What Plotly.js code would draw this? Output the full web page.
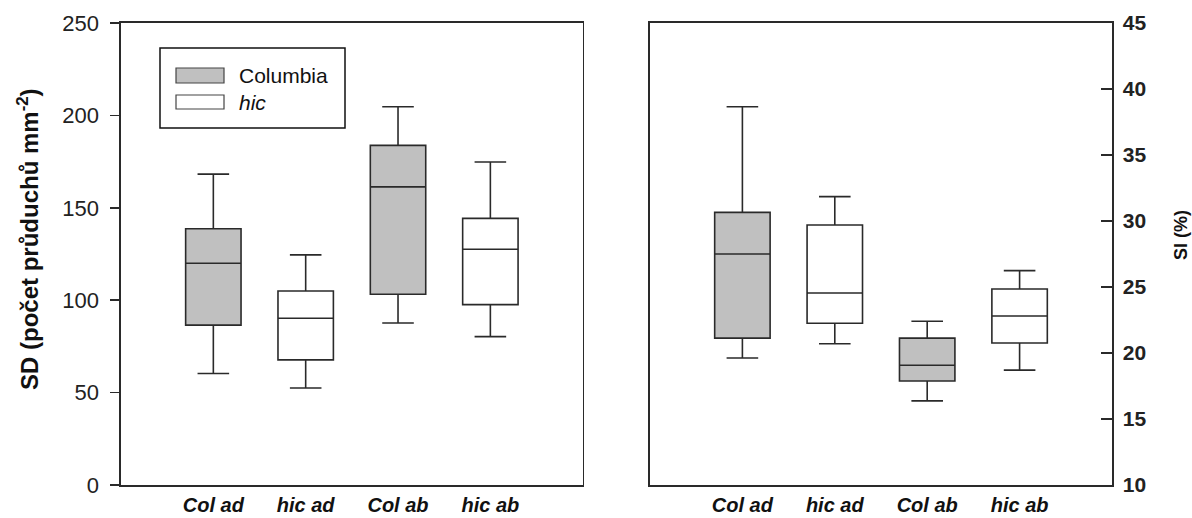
<!DOCTYPE html>
<html>
<head>
<meta charset="utf-8">
<script src="https://cdn.plot.ly/plotly-3.0.1.min.js"></script>
<style>html,body{margin:0;padding:0;background:#fff;}#chart{width:1192px;height:518px;}</style>
</head>
<body>
<div id="chart"></div>
<script>
// categories and tick labels
const categories = ['Col ad', 'hic ad', 'Col ab', 'hic ab'];
const catPos = [0, 1, 2, 3];
const seriesNames = ['Columbia', 'hic'];

// SD (stomata per mm^2) box statistics, per category
const sdLow    = [60.3, 52.5, 87.7, 80.3];
const sdQ1     = [86.5, 67.7, 103.2, 97.6];
const sdMedian = [120.0, 90.2, 161.3, 127.6];
const sdQ3     = [138.7, 105.0, 183.8, 144.3];
const sdHigh   = [168.2, 124.5, 204.7, 174.8];

// SI (%) box statistics, per category
const siLow    = [19.62, 20.70, 16.37, 18.70];
const siQ1     = [21.13, 22.25, 17.88, 20.76];
const siMedian = [27.50, 24.55, 19.07, 22.80];
const siQ3     = [30.65, 29.70, 21.13, 24.85];
const siHigh   = [38.65, 31.85, 22.40, 26.24];

// which categories belong to which series
const colIdx = [0, 2];
const hicIdx = [1, 3];

const FONT = 'Liberation Sans, Arial, sans-serif';
const LINE = '#2a2a2a';
const fills = ['#c0c0c0', '#ffffff'];

function pick(arr, idx) { return idx.map(i => arr[i]); }

function boxTrace(idx, fill, name, low, q1, med, q3, high, xa, ya) {
  return {
    type: 'box', name: name, showlegend: false,
    x: pick(catPos, idx),
    lowerfence: pick(low, idx), q1: pick(q1, idx), median: pick(med, idx),
    q3: pick(q3, idx), upperfence: pick(high, idx),
    fillcolor: fill, line: {color: LINE, width: 1.6},
    width: 0.6, whiskerwidth: 0.57,
    xaxis: xa, yaxis: ya, hoverinfo: 'skip'
  };
}

const data = [
  boxTrace(colIdx, fills[0], seriesNames[0], sdLow, sdQ1, sdMedian, sdQ3, sdHigh, 'x', 'y'),
  boxTrace(hicIdx, fills[1], seriesNames[1], sdLow, sdQ1, sdMedian, sdQ3, sdHigh, 'x', 'y'),
  boxTrace(colIdx, fills[0], seriesNames[0], siLow, siQ1, siMedian, siQ3, siHigh, 'x2', 'y2'),
  boxTrace(hicIdx, fills[1], seriesNames[1], siLow, siQ1, siMedian, siQ3, siHigh, 'x2', 'y2')
];

const xCommon = {
  range: [-1, 4], tickvals: catPos, ticktext: categories,
  showline: true, mirror: true, linecolor: LINE, linewidth: 1.6,
  ticks: '', showgrid: false, zeroline: false, fixedrange: true,
  ticklabelstandoff: 1,
  tickfont: {family: FONT, size: 20, color: '#111', weight: 'bold', style: 'italic'}
};

const layout = {
  width: 1192, height: 518,
  margin: {l: 121, r: 80, t: 23, b: 33},
  paper_bgcolor: '#fff', plot_bgcolor: '#fff',
  boxmode: 'overlay', showlegend: false,
  font: {family: FONT, color: '#222'},
  xaxis: Object.assign({}, xCommon, {domain: [0, 0.4659], anchor: 'y'}),
  xaxis2: Object.assign({}, xCommon, {domain: [0.5338, 1], anchor: 'y2'}),
  yaxis: {
    range: [0, 250], tickvals: [0, 50, 100, 150, 200, 250],
    showline: true, mirror: true, linecolor: LINE, linewidth: 1.6,
    ticks: 'outside', ticklen: 9, tickcolor: LINE, tickwidth: 1.5,
    ticklabelstandoff: 7,
    showgrid: false, zeroline: false, anchor: 'x',
    tickfont: {family: FONT, size: 22, color: '#222'}
  },
  yaxis2: {
    range: [10, 45], tickvals: [10, 15, 20, 25, 30, 35, 40, 45],
    side: 'right', anchor: 'x2',
    showline: true, mirror: true, linecolor: LINE, linewidth: 1.6,
    ticks: 'inside', ticklen: 11, tickcolor: LINE, tickwidth: 1.5,
    ticklabelstandoff: 5,
    showgrid: false, zeroline: false,
    tickfont: {family: FONT, size: 21, color: '#222', weight: 'bold'}
  },
  shapes: [
    // legend frame
    {type: 'rect', xref: 'paper', yref: 'paper', x0: (160-121)/991, x1: (345-121)/991, y0: (485-128)/462, y1: (485-48)/462, line: {color: '#111', width: 1.5}, fillcolor: 'rgba(0,0,0,0)'},
    {type: 'rect', xref: 'paper', yref: 'paper', x0: (176-121)/991, x1: (224-121)/991, y0: (485-83)/462, y1: (485-68)/462, line: {color: '#444', width: 1.2}, fillcolor: fills[0]},
    {type: 'rect', xref: 'paper', yref: 'paper', x0: (176-121)/991, x1: (224-121)/991, y0: (485-109)/462, y1: (485-95)/462, line: {color: '#444', width: 1.2}, fillcolor: fills[1]}
  ],
  annotations: [
    {xref: 'paper', yref: 'paper', x: (237-121)/991, y: (485-76)/462, xanchor: 'left', yanchor: 'middle', showarrow: false, text: seriesNames[0], font: {family: FONT, size: 21, color: '#111'}},
    {xref: 'paper', yref: 'paper', x: (237-121)/991, y: (485-102)/462, xanchor: 'left', yanchor: 'middle', showarrow: false, text: '<i>' + seriesNames[1] + '</i>', font: {family: FONT, size: 21, color: '#111'}},
    {xref: 'paper', yref: 'paper', x: (28-121)/991, y: (485-239)/462, xanchor: 'center', yanchor: 'middle', showarrow: false, textangle: -90, text: 'SD (počet průduchů mm<sup>-2</sup>)', font: {family: FONT, size: 24, color: '#111', weight: 'bold'}},
    {xref: 'paper', yref: 'paper', x: (1181-121)/991, y: (485-235)/462, xanchor: 'center', yanchor: 'middle', showarrow: false, textangle: -90, text: 'SI (%)', font: {family: FONT, size: 18, color: '#111', weight: 'bold'}}
  ]
};

Plotly.newPlot('chart', data, layout, {displayModeBar: false, staticPlot: true});
</script>
</body>
</html>
